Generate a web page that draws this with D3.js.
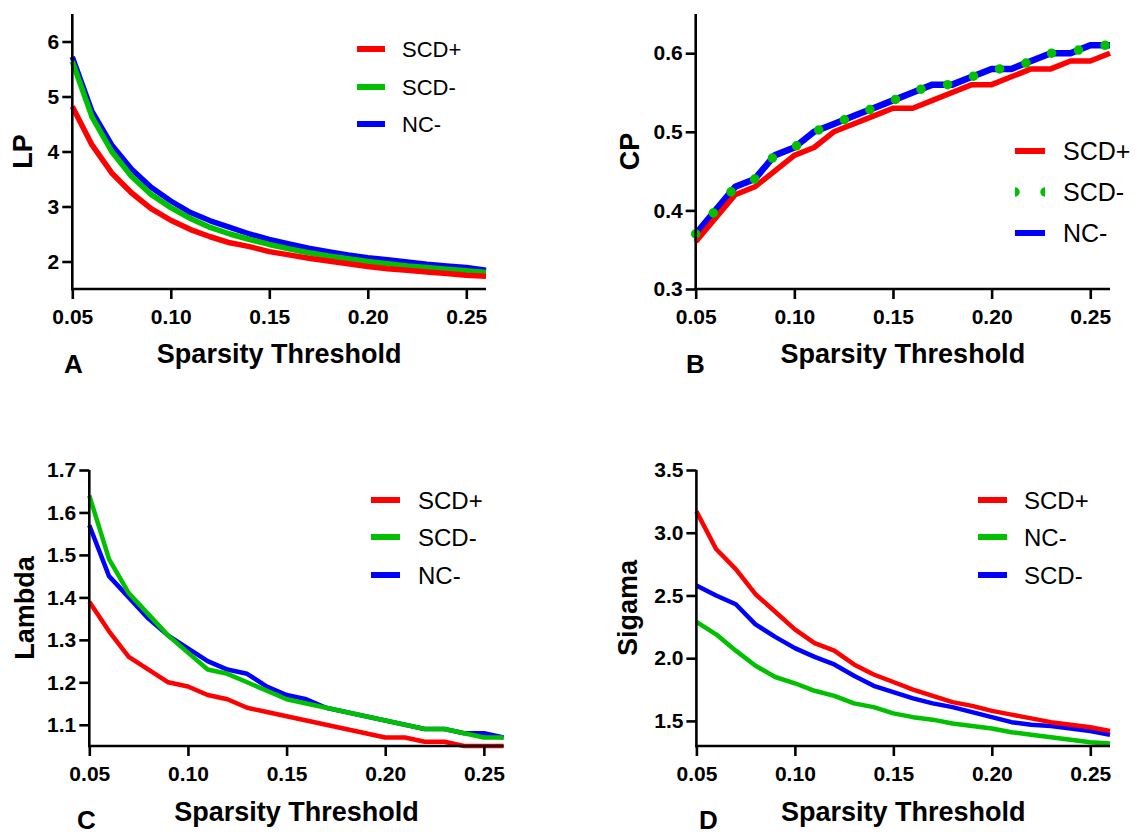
<!DOCTYPE html>
<html>
<head>
<meta charset="utf-8">
<script src="https://cdn.jsdelivr.net/npm/d3@7"></script>
<style>
  body { margin: 0; background: #fff; }
  svg { display: block; }
</style>
</head>
<body>
<div id="chart"></div>
<script>
// sparsity thresholds shared by all four panels
const thresholds = [0.05, 0.06, 0.07, 0.08, 0.09, 0.10, 0.11, 0.12, 0.13, 0.14, 0.15,
                    0.16, 0.17, 0.18, 0.19, 0.20, 0.21, 0.22, 0.23, 0.24, 0.25, 0.26];
const xTicks = [0.05, 0.10, 0.15, 0.20, 0.25];

// A - LP
const lpSCDplus  = [4.82, 4.12, 3.61, 3.25, 2.96, 2.75, 2.58, 2.45, 2.34, 2.27, 2.18, 2.12, 2.06, 2.01, 1.96, 1.91, 1.87, 1.84, 1.81, 1.78, 1.75, 1.73];
const lpSCDminus = [5.64, 4.63, 4.00, 3.55, 3.22, 2.98, 2.78, 2.62, 2.50, 2.40, 2.31, 2.23, 2.16, 2.10, 2.05, 2.00, 1.96, 1.92, 1.89, 1.86, 1.83, 1.80];
const lpNCminus  = [5.72, 4.73, 4.12, 3.68, 3.35, 3.10, 2.89, 2.74, 2.62, 2.50, 2.40, 2.32, 2.24, 2.18, 2.12, 2.07, 2.03, 1.99, 1.95, 1.92, 1.89, 1.84];
const lpTicks = [2, 3, 4, 5, 6];

// B - CP
const cpSCDplus  = [0.36, 0.39, 0.42, 0.43, 0.45, 0.47, 0.48, 0.50, 0.51, 0.52, 0.53, 0.53, 0.54, 0.55, 0.56, 0.56, 0.57, 0.58, 0.58, 0.59, 0.59, 0.60];
const cpSCDminus = [0.37, 0.40, 0.43, 0.44, 0.47, 0.48, 0.50, 0.51, 0.52, 0.53, 0.54, 0.55, 0.56, 0.56, 0.57, 0.58, 0.58, 0.59, 0.60, 0.60, 0.61, 0.61];
const cpNCminus  = [0.37, 0.40, 0.43, 0.44, 0.47, 0.48, 0.50, 0.51, 0.52, 0.53, 0.54, 0.55, 0.56, 0.56, 0.57, 0.58, 0.58, 0.59, 0.60, 0.60, 0.61, 0.61];
const cpTicks = [0.3, 0.4, 0.5, 0.6];

// C - Lambda
const lambdaSCDplus  = [1.39, 1.32, 1.26, 1.23, 1.20, 1.19, 1.17, 1.16, 1.14, 1.13, 1.12, 1.11, 1.10, 1.09, 1.08, 1.07, 1.07, 1.06, 1.06, 1.05, 1.05, 1.05];
const lambdaSCDminus = [1.64, 1.49, 1.41, 1.36, 1.31, 1.27, 1.23, 1.22, 1.20, 1.18, 1.16, 1.15, 1.14, 1.13, 1.12, 1.11, 1.10, 1.09, 1.09, 1.08, 1.07, 1.07];
const lambdaNCminus  = [1.57, 1.45, 1.40, 1.35, 1.31, 1.28, 1.25, 1.23, 1.22, 1.19, 1.17, 1.16, 1.14, 1.13, 1.12, 1.11, 1.10, 1.09, 1.09, 1.08, 1.08, 1.07];
const lambdaTicks = [1.1, 1.2, 1.3, 1.4, 1.5, 1.6, 1.7];

// D - Sigama (legend order: SCD+, NC-, SCD-)
const sigmaSCDplus  = [3.17, 2.87, 2.71, 2.51, 2.37, 2.23, 2.12, 2.06, 1.95, 1.87, 1.81, 1.75, 1.70, 1.65, 1.62, 1.58, 1.55, 1.52, 1.49, 1.47, 1.45, 1.42];
const sigmaNCminus  = [2.29, 2.19, 2.06, 1.94, 1.85, 1.80, 1.74, 1.70, 1.64, 1.61, 1.56, 1.53, 1.51, 1.48, 1.46, 1.44, 1.41, 1.39, 1.37, 1.35, 1.33, 1.32];
const sigmaSCDminus = [2.58, 2.50, 2.43, 2.27, 2.17, 2.08, 2.01, 1.95, 1.86, 1.78, 1.73, 1.68, 1.64, 1.61, 1.57, 1.53, 1.49, 1.47, 1.46, 1.44, 1.42, 1.39];
const sigmaTicks = [1.5, 2.0, 2.5, 3.0, 3.5];

const RED = "#ff0000", GREEN = "#00c000", BLUE = "#0000ff";
const FONT = "'Liberation Sans', Arial, Helvetica, sans-serif";

let width = 1135;
let height = 835;

let svg = d3.select("#chart").append("svg")
  .attr("width", width)
  .attr("height", height)
  .attr("viewBox", "0 0 " + width + " " + height);

let panels = [
  {
    letter: "A", yTitle: "LP", x0: 72.3, x1: 486, yTop: 14, yBot: 289,
    yDomain: [1.5, 6.5], yTicks: lpTicks, yFmt: d3.format("d"), lw: 5.5,
    yTitleX: 32, letterX: 64, letterY: 373, titleY: 363,
    legend: { x: 357, len: 28, tx: 402, ys: [49, 87, 124], size: 22 },
    series: [
      { name: "SCD+", values: lpSCDplus, color: RED, order: 2 },
      { name: "SCD-", values: lpSCDminus, color: GREEN, order: 1 },
      { name: "NC-", values: lpNCminus, color: BLUE, order: 0 }
    ]
  },
  {
    letter: "B", yTitle: "CP", x0: 695.7, x1: 1110, yTop: 13.9, yBot: 289,
    yDomain: [0.3, 0.65], yTicks: cpTicks, yFmt: d3.format(".1f"), lw: 5.5,
    yTitleX: 639, letterX: 686, letterY: 373, titleY: 363,
    legend: { x: 1015, len: 30, tx: 1063, ys: [151, 192, 233], size: 25 },
    series: [
      { name: "SCD+", values: cpSCDplus, color: RED, order: 1 },
      { name: "SCD-", values: cpSCDminus, color: GREEN, order: 2, dotted: true },
      { name: "NC-", values: cpNCminus, color: BLUE, order: 0, width: 6.5 }
    ]
  },
  {
    letter: "C", yTitle: "Lambda", x0: 89.3, x1: 503.6, yTop: 470, yBot: 746,
    yDomain: [1.05, 1.7], yTicks: lambdaTicks, yFmt: d3.format(".1f"), lw: 4.5,
    yTitleX: 34, letterX: 77, letterY: 829, titleY: 821,
    legend: { x: 371, len: 29, tx: 418, ys: [500, 537, 575], size: 24 },
    series: [
      { name: "SCD+", values: lambdaSCDplus, color: RED, order: 2 },
      { name: "SCD-", values: lambdaSCDminus, color: GREEN, order: 1 },
      { name: "NC-", values: lambdaNCminus, color: BLUE, order: 0 }
    ]
  },
  {
    letter: "D", yTitle: "Sigama", x0: 696.4, x1: 1110, yTop: 470, yBot: 746,
    yDomain: [1.3, 3.5], yTicks: sigmaTicks, yFmt: d3.format(".1f"), lw: 4.5,
    yTitleX: 637, letterX: 699, letterY: 829, titleY: 821,
    legend: { x: 978, len: 29, tx: 1024, ys: [500, 537, 575], size: 24 },
    series: [
      { name: "SCD+", values: sigmaSCDplus, color: RED, order: 2 },
      { name: "NC-", values: sigmaNCminus, color: GREEN, order: 0 },
      { name: "SCD-", values: sigmaSCDminus, color: BLUE, order: 1 }
    ]
  }
];

panels.forEach(function (p, pi) {
  let x = d3.scaleLinear().domain([0.05, 0.26]).range([p.x0, p.x1]);
  let y = d3.scaleLinear().domain(p.yDomain).range([p.yBot, p.yTop]);
  let g = svg.append("g");

  let line = d3.line()
    .x(function (d, i) { return x(thresholds[i]); })
    .y(function (d) { return y(d); });

  // lines, drawn in stacking order
  p.series.slice().sort(function (a, b) { return a.order - b.order; }).forEach(function (s) {
    let path = g.append("path")
      .datum(s.values)
      .attr("d", line)
      .attr("fill", "none")
      .attr("stroke", s.color)
      .attr("stroke-linejoin", "round");
    if (s.dotted) {
      path.attr("stroke-width", 9.5)
        .attr("stroke-linecap", "round")
        .attr("stroke-dasharray", "0,27.5");
    } else {
      path.attr("stroke-width", s.width || p.lw);
    }
  });

  // axes
  let xAxis = d3.axisBottom(x).tickValues(xTicks).tickFormat(d3.format(".2f"))
    .tickSizeOuter(0).tickSize(10).tickPadding(10);
  let yAxis = d3.axisLeft(y).tickValues(p.yTicks).tickFormat(p.yFmt)
    .tickSizeOuter(0).tickSize(10).tickPadding(3);

  let gx = g.append("g").attr("transform", "translate(0," + p.yBot + ")").call(xAxis);
  let gy = g.append("g").attr("transform", "translate(" + p.x0 + ",0)").call(yAxis);
  [gx, gy].forEach(function (a) {
    a.select(".domain").attr("stroke", "#000").attr("stroke-width", 2.6);
    a.selectAll(".tick line").attr("stroke", "#000").attr("stroke-width", 2.6);
    a.selectAll(".tick text")
      .attr("fill", "#000")
      .style("font-family", FONT)
      .style("font-weight", "bold")
      .style("font-size", "21px");
  });
  // extend the domain lines to meet at the corner
  gx.select(".domain").attr("d", "M" + (p.x0 - 1.3) + ",0H" + p.x1);
  gy.select(".domain").attr("d", "M0," + p.yTop + "V" + (p.yBot + 1.3));

  // axis titles
  g.append("text")
    .attr("x", (p.x0 + p.x1) / 2)
    .attr("y", p.titleY)
    .attr("text-anchor", "middle")
    .style("font-family", FONT)
    .style("font-weight", "bold")
    .style("font-size", "27px")
    .text("Sparsity Threshold");

  g.append("text")
    .attr("transform", "translate(" + p.yTitleX + "," + ((p.yTop + p.yBot) / 2) + ") rotate(-90)")
    .attr("text-anchor", "middle")
    .style("font-family", FONT)
    .style("font-weight", "bold")
    .style("font-size", "27px")
    .text(p.yTitle);

  g.append("text")
    .attr("x", p.letterX)
    .attr("y", p.letterY)
    .style("font-family", FONT)
    .style("font-weight", "bold")
    .style("font-size", "26px")
    .text(p.letter);

  // legend
  let lg = p.legend;
  p.series.forEach(function (s, i) {
    let ly = lg.ys[i];
    if (s.dotted) {
      // two half dots, cut at the ends of the sample line
      let clipId = "legclip" + pi;
      g.append("clipPath").attr("id", clipId)
        .append("rect")
        .attr("x", lg.x).attr("y", ly - 6)
        .attr("width", lg.len).attr("height", 12);
      g.selectAll(null)
        .data([lg.x, lg.x + lg.len])
        .enter().append("circle")
        .attr("cx", function (d) { return d; })
        .attr("cy", ly)
        .attr("r", 4.75)
        .attr("fill", s.color)
        .attr("clip-path", "url(#" + clipId + ")");
    } else {
      g.append("line")
        .attr("x1", lg.x).attr("x2", lg.x + lg.len)
        .attr("y1", ly).attr("y2", ly)
        .attr("stroke", s.color)
        .attr("stroke-width", 6);
    }
    g.append("text")
      .attr("x", lg.tx)
      .attr("y", ly)
      .attr("dy", "0.36em")
      .style("font-family", FONT)
      .style("font-size", lg.size + "px")
      .text(s.name);
  });
});
</script>
</body>
</html>
